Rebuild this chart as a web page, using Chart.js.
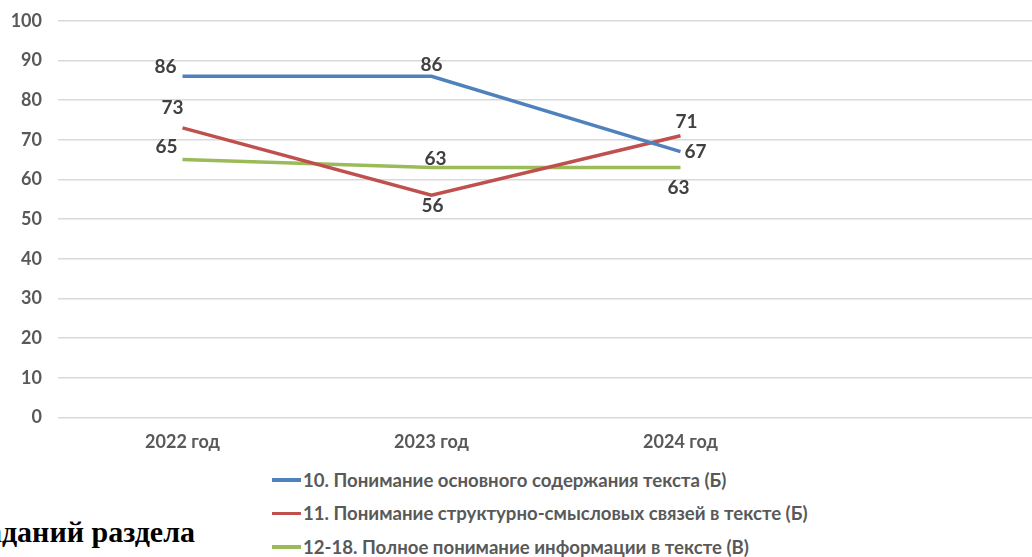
<!DOCTYPE html>
<html lang="ru">
<head>
<meta charset="utf-8">
<script src="https://cdn.jsdelivr.net/npm/chart.js@4.4.1/dist/chart.umd.min.js"></script>
<style>
    html, body { margin: 0; padding: 0; background: #fff; overflow: hidden; width: 1032px; height: 557px; }
    #wrap { position: absolute; left: 0; top: -6px; width: 1054px; height: 465px; }
    #legend { position: absolute; left: 272px; top: 463px; font-family: Lato, 'Open Sans', sans-serif; font-weight: bold; font-size: 18.6px; color: #595959; }
    .item { height: 33.5px; display: flex; align-items: center; white-space: nowrap; }
    .swatch { width: 29px; height: 3.5px; margin-right: 2px; }
    #doc { position: absolute; right: 837px; top: 517px; line-height: 30px; white-space: nowrap; font-family: 'Liberation Serif', 'Times New Roman', serif; font-weight: bold; font-size: 30px; color: #000; }
</style>
</head>
<body>
<div id="wrap"><canvas id="chart"></canvas></div>
<div id="legend"></div>
<div id="doc">заданий раздела</div>
<script>
// categories (the last slot is empty, as in the original sheet)
const years = ['2022 год', '2023 год', '2024 год', ''];

const seriesNames = [
    '10. Понимание основного содержания текста (Б)',
    '11. Понимание структурно-смысловых связей в тексте (Б)',
    '12-18. Полное понимание информации в тексте (В)'
];
const mainContent = [86, 86, 67];
const structure = [73, 56, 71];
const fullInfo = [65, 63, 63];

const colors = ['#4F81BD', '#C0504D', '#9BBB59'];
// where each value label sits relative to its point (px)
const labelOffsets = [
    [[-17, -9], [0, -11], [15, 0]],
    [[-10, -20], [1, 11], [6, -14]],
    [[-16, -13], [4, -9], [-2, 20]]
];

const valueLabels = {
    id: 'valueLabels',
    afterDatasetsDraw(chart) {
        const ctx = chart.ctx;
        ctx.save();
        ctx.font = 'bold 19px Lato, "Open Sans", sans-serif';
        ctx.fillStyle = '#404040';
        ctx.textAlign = 'center';
        ctx.textBaseline = 'middle';
        chart.data.datasets.forEach((ds, i) => {
            chart.getDatasetMeta(i).data.forEach((pt, j) => {
                const off = labelOffsets[i][j];
                ctx.fillText(ds.data[j], pt.x + off[0], pt.y + off[1]);
            });
        });
        ctx.restore();
    }
};

const allSeries = [mainContent, structure, fullInfo];

new Chart(document.getElementById('chart'), {
    type: 'line',
    data: {
        labels: years,
        datasets: allSeries.map((d, i) => ({
            label: seriesNames[i],
            data: d,
            borderColor: colors[i],
            backgroundColor: colors[i],
            borderWidth: 3.5,
            pointRadius: 0,
            tension: 0
        }))
    },
    options: {
        responsive: true,
        maintainAspectRatio: false,
        animation: false,
        layout: { padding: { top: 2, right: 0, left: 0, bottom: 0 } },
        plugins: { legend: { display: false }, tooltip: { enabled: false } },
        scales: {
            x: {
                offset: true,
                grid: { display: false },
                border: { display: false },
                ticks: { color: '#595959', font: { family: 'Lato', weight: 'bold', size: 18 }, padding: 6 }
            },
            y: {
                min: 0, max: 100,
                ticks: { stepSize: 10, color: '#595959', font: { family: 'Lato', weight: 'bold', size: 18 }, padding: 16 },
                grid: { color: '#D9D9D9', lineWidth: 1.5, drawTicks: false },
                border: { display: false },
                afterFit(scale) { scale.width = 58; }
            }
        }
    },
    plugins: [valueLabels]
});

document.getElementById('legend').innerHTML = seriesNames.map((n, i) =>
    `<div class="item"><span class="swatch" style="background:${colors[i]}"></span>${n}</div>`
).join('');
</script>
</body>
</html>
